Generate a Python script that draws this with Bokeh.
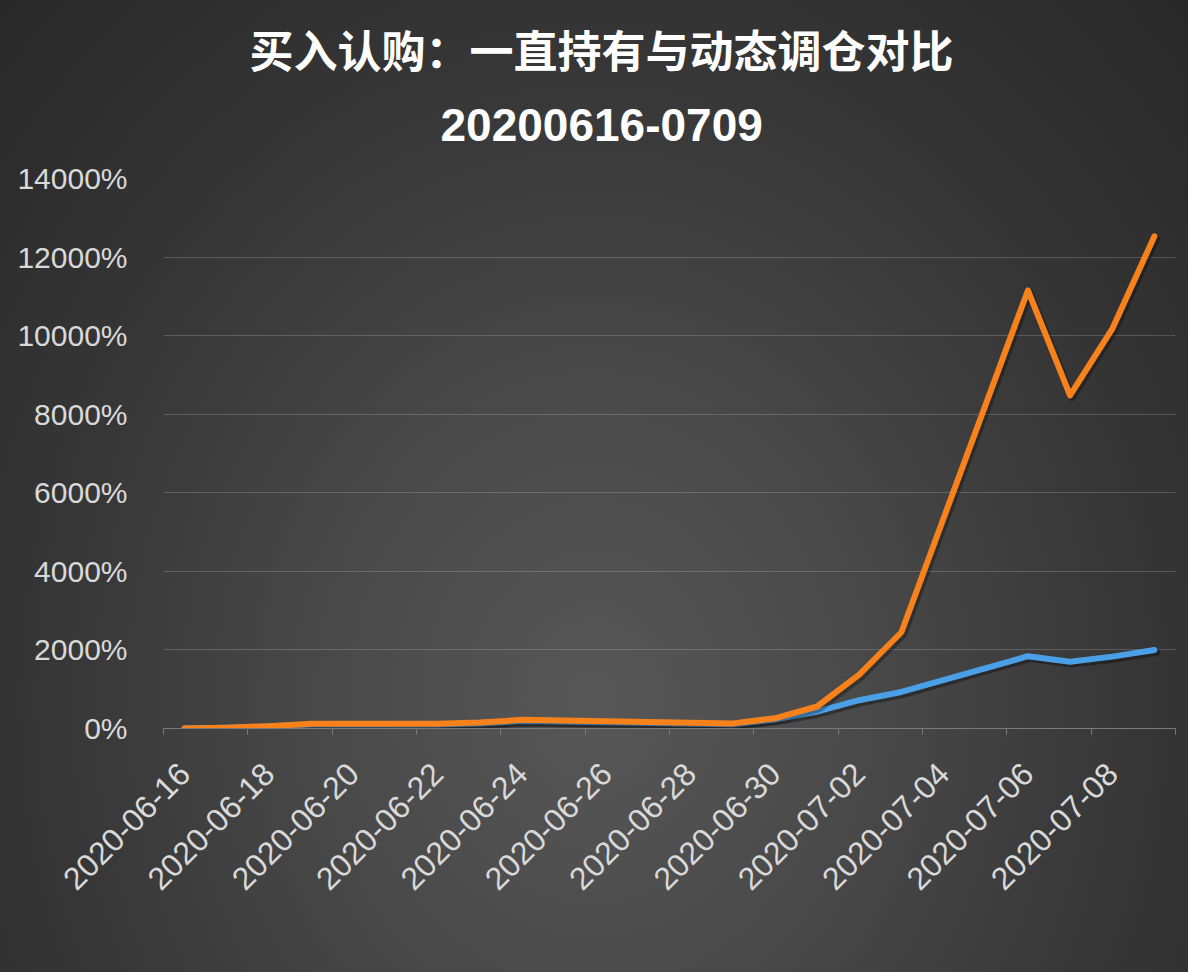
import math
import pandas as pd
from bokeh.plotting import figure
from bokeh.models import (Range1d, FixedTicker, DatetimeTickFormatter, PrintfTickFormatter,
                          Legend, LegendItem, Title, ColumnDataSource)
from bokeh.transform import dodge
from bokeh.embed import file_html
from bokeh.resources import INLINE

# ---- data ----
dates = ["2020-06-16", "2020-06-17", "2020-06-18", "2020-06-19", "2020-06-22", "2020-06-23",
         "2020-06-24", "2020-06-29", "2020-06-30", "2020-07-01", "2020-07-02", "2020-07-03",
         "2020-07-06", "2020-07-07", "2020-07-08", "2020-07-09"]
hold = [0, 20, 50, 100, 100, 130, 190, 110, 230, 430, 720, 930, 1840, 1700, 1830, 2000]
roll = [0, 20, 60, 120, 120, 150, 220, 130, 260, 560, 1370, 2450, 11150, 8480, 10170, 12530]
series_names = ["一直持有IO2007-C-4050", "每上涨100点调仓至新的平值期权"]
title_main = "买入认购：一直持有与动态调仓对比"
title_sub = "20200616-0709"
y_ticks = [0, 2000, 4000, 6000, 8000, 10000, 12000, 14000]
x_label_dates = ["2020-06-16", "2020-06-18", "2020-06-20", "2020-06-22", "2020-06-24", "2020-06-26",
                 "2020-06-28", "2020-06-30", "2020-07-02", "2020-07-04", "2020-07-06", "2020-07-08"]

BLUE = "#4a9fe6"
ORANGE = "#f7821b"
TXT = "#d9d9d9"
LATIN = "Liberation Sans, Noto Sans CJK SC"
GRADIENT = ("radial-gradient(ellipse farthest-corner at 50% 50%, #575757 0%, #4a4a4a 30%, "
            "#363636 65%, #282828 100%)")

src = ColumnDataSource(data=dict(x=pd.to_datetime(dates), hold=hold, roll=roll))

DAY = 86400000
x0 = pd.Timestamp("2020-06-15 12:00")
x1 = pd.Timestamp("2020-07-09 12:00")

p = figure(frame_width=1012, frame_height=550, x_axis_type="datetime",
           x_range=Range1d(x0, x1), y_range=Range1d(0, 14000),
           output_backend="svg", toolbar_location=None,
           min_border_left=163, min_border_right=13, min_border_top=178, min_border_bottom=0)

p.background_fill_alpha = 0
p.border_fill_alpha = 0
p.outline_line_color = None
p.styles = {"background": GRADIENT}

# ---- axes ----
tick_ms = [pd.Timestamp(d).value // 10**6 for d in x_label_dates]
minor_ms = [(x0 + pd.Timedelta(days=2 * k)).value // 10**6 for k in range(13)]
p.xaxis.ticker = FixedTicker(ticks=tick_ms, minor_ticks=minor_ms)
fmt = "%Y-%m-%d"
p.xaxis.formatter = DatetimeTickFormatter(days=fmt, months=fmt, years=fmt, hours=fmt,
                                          hourmin=fmt, minutes=fmt, minsec=fmt, seconds=fmt,
                                          milliseconds=fmt, microseconds=fmt)
p.xaxis.major_label_orientation = math.pi / 4
p.xaxis.major_tick_line_color = None
p.xaxis.major_tick_out = 0
p.xaxis.major_tick_in = 0
p.xaxis.minor_tick_line_color = "#7a7a7a"
p.xaxis.minor_tick_out = 6
p.xaxis.minor_tick_in = 0
p.xaxis.axis_line_color = "#7a7a7a"
p.xaxis.major_label_text_color = TXT
p.xaxis.major_label_text_font = LATIN
p.xaxis.major_label_text_font_size = "32px"
p.xaxis.major_label_standoff = 34

p.yaxis.ticker = FixedTicker(ticks=y_ticks)
p.yaxis.formatter = PrintfTickFormatter(format="%d%%")
p.yaxis.axis_line_color = None
p.yaxis.major_tick_line_color = None
p.yaxis.minor_tick_line_color = None
p.yaxis.major_label_text_color = TXT
p.yaxis.major_label_text_font = LATIN
p.yaxis.major_label_text_font_size = "30px"
p.yaxis.major_label_standoff = 30

p.xgrid.grid_line_color = None
p.ygrid.grid_line_color = "#ffffff"
p.ygrid.grid_line_alpha = 0.18
p.ygrid.grid_line_width = 1

# ---- lines with soft shadow ----
p.line(x=dodge("x", 0.05 * DAY, range=p.x_range), y=dodge("hold", -60, range=p.y_range),
       source=src, line_color="#000000", line_alpha=0.35, line_width=7,
       line_join="round", line_cap="round")
r_hold = p.line("x", "hold", source=src, line_color=BLUE, line_width=6,
                line_join="round", line_cap="round")
p.line(x=dodge("x", 0.05 * DAY, range=p.x_range), y=dodge("roll", -60, range=p.y_range),
       source=src, line_color="#000000", line_alpha=0.3, line_width=7,
       line_join="round", line_cap="round")
r_roll = p.line("x", "roll", source=src, line_color=ORANGE, line_width=6,
                line_join="round", line_cap="round")

# ---- legend ----
legend = Legend(items=[LegendItem(label=series_names[0], renderers=[r_hold]),
                       LegendItem(label=series_names[1], renderers=[r_roll])],
                orientation="horizontal", location="center",
                label_text_font=LATIN, label_text_font_size="32px", label_text_color=TXT,
                glyph_width=56, glyph_height=36, spacing=56, label_standoff=2,
                padding=0, margin=0, background_fill_alpha=0, border_line_alpha=0)
p.add_layout(legend, "below")

# ---- titles ----
p.title = None
t_sub = Title(text=title_sub, align="left", offset=277, text_color="#ffffff",
              text_font="Liberation Sans", text_font_style="bold",
              text_font_size="46px", standoff=76)
t_main = Title(text=title_main, align="left", offset=86, text_color="#ffffff",
               text_font="Noto Sans CJK SC", text_font_style="bold",
               text_font_size="44px", standoff=-25)
p.add_layout(t_sub, "above")
p.add_layout(t_main, "above")

open("out.html", "w").write(file_html(p, INLINE))
